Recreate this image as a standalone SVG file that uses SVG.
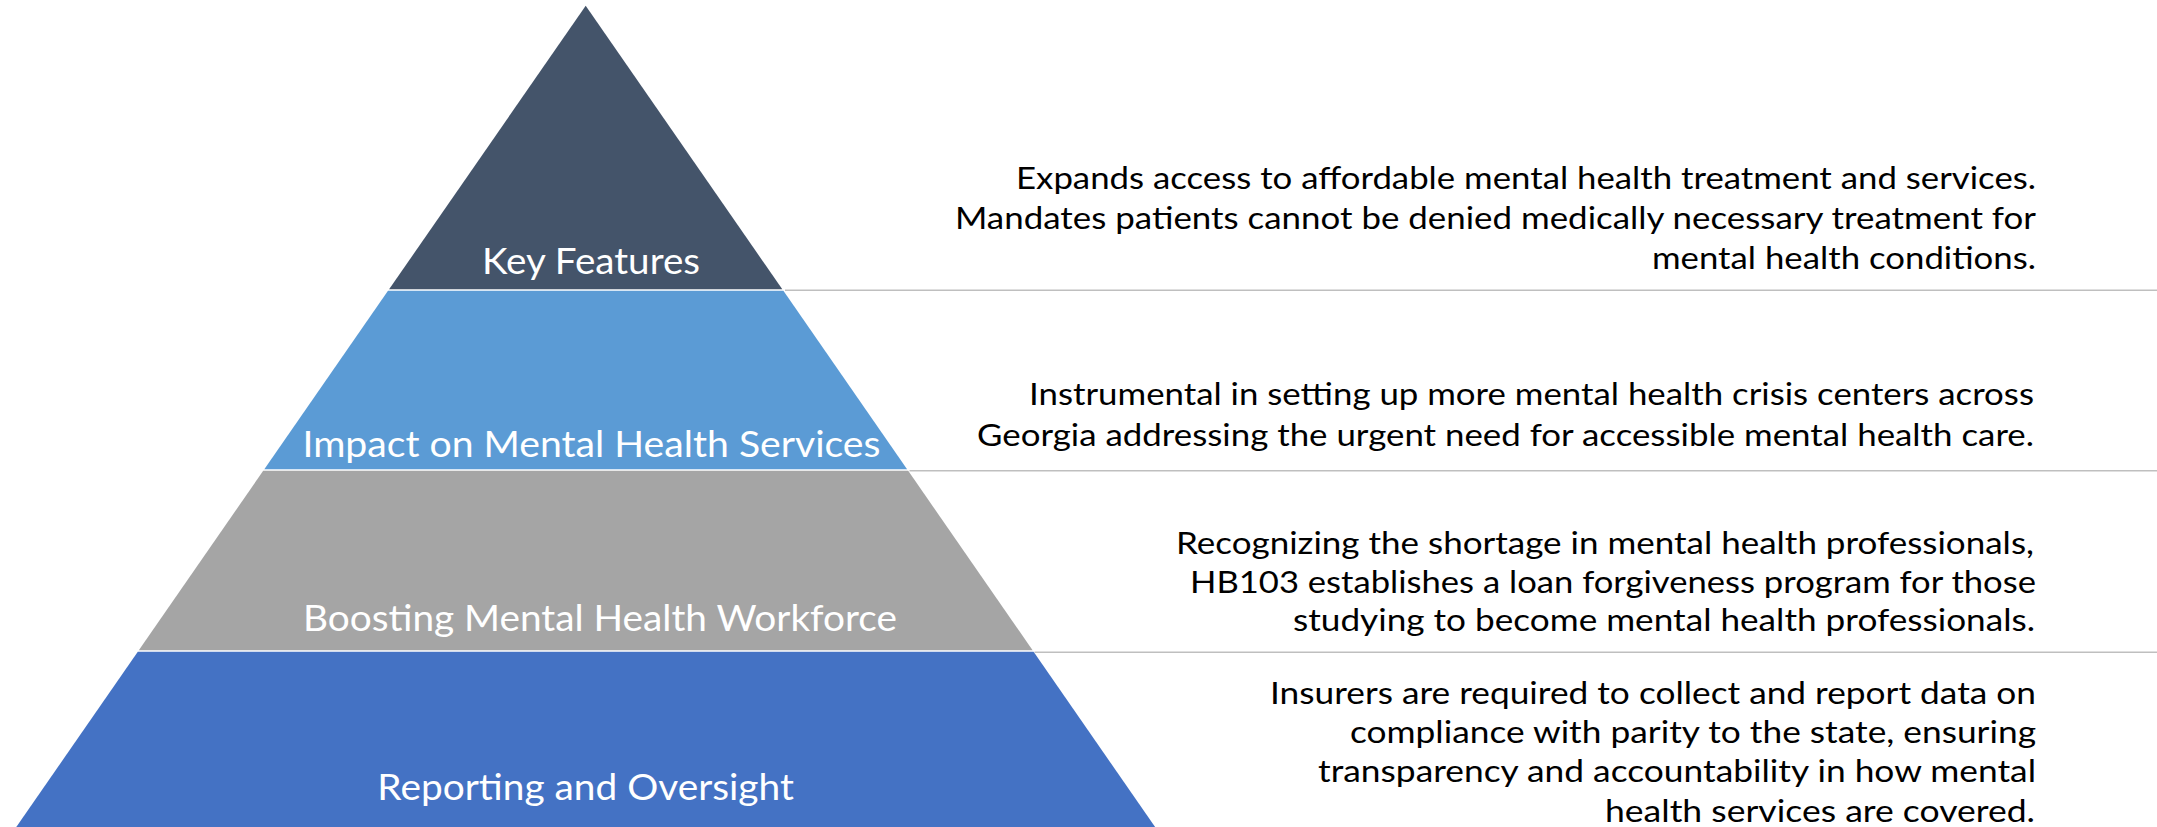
<svg xmlns="http://www.w3.org/2000/svg" width="2157" height="827" viewBox="0 0 2157 827">
<style>
.band{stroke:none}
.lbl{font-family:Lato,"Liberation Sans",sans-serif;font-size:36px;fill:#FFFFFF;text-anchor:middle}
.desc{font-family:Lato,"Liberation Sans",sans-serif;font-size:31px;fill:#000000;text-anchor:end}
.sep{stroke:#BFBFBF;stroke-width:1.6;fill:none}
</style>
<rect width="2157" height="827" fill="#FFFFFF"/>
<g id="separators">
<line class="sep" x1="785" y1="290.2" x2="2157" y2="290.2"/>
<line class="sep" x1="909.5" y1="470.8" x2="2157" y2="470.8"/>
<line class="sep" x1="1034.5" y1="652.3" x2="2157" y2="652.3"/>
</g>
<g id="node-key-features">
<polygon class="band" fill="#44546A" points="585.7,5.7 782.3,289.3 389.1,289.3"/>
<text class="lbl" x="591" y="274" textLength="218" lengthAdjust="spacingAndGlyphs">Key Features</text>
<text class="desc" x="2036" y="189.3" textLength="1020" lengthAdjust="spacingAndGlyphs">Expands access to affordable mental health treatment and services.</text>
<text class="desc" x="2036" y="229" textLength="1081" lengthAdjust="spacingAndGlyphs">Mandates patients cannot be denied medically necessary treatment for</text>
<text class="desc" x="2036" y="269" textLength="384" lengthAdjust="spacingAndGlyphs">mental health conditions.</text>
</g>
<g id="node-impact">
<polygon class="band" fill="#5B9BD5" points="388,290.8 783.4,290.8 907.1,469.3 264.3,469.3"/>
<text class="lbl" x="591.5" y="457" textLength="578" lengthAdjust="spacingAndGlyphs">Impact on Mental Health Services</text>
<text class="desc" x="2034" y="405" textLength="1005" lengthAdjust="spacingAndGlyphs">Instrumental in setting up more mental health crisis centers across</text>
<text class="desc" x="2034" y="445.6" textLength="1057" lengthAdjust="spacingAndGlyphs">Georgia addressing the urgent need for accessible mental health care.</text>
</g>
<g id="node-workforce">
<polygon class="band" fill="#A5A5A5" points="263.2,470.8 908.2,470.8 1032.6,650.3 138.8,650.3"/>
<text class="lbl" x="600" y="630.5" textLength="594" lengthAdjust="spacingAndGlyphs">Boosting Mental Health Workforce</text>
<text class="desc" x="2034" y="553.5" textLength="858" lengthAdjust="spacingAndGlyphs">Recognizing the shortage in mental health professionals,</text>
<text class="desc" x="2036" y="592.5" textLength="846" lengthAdjust="spacingAndGlyphs">HB103 establishes a loan forgiveness program for those</text>
<text class="desc" x="2035" y="631" textLength="742" lengthAdjust="spacingAndGlyphs">studying to become mental health professionals.</text>
</g>
<g id="node-reporting">
<polygon class="band" fill="#4472C4" points="137.8,651.8 1033.6,651.8 1157.2,830 14.2,830"/>
<text class="lbl" x="585.6" y="799.5" textLength="416.5" lengthAdjust="spacingAndGlyphs">Reporting and Oversight</text>
<text class="desc" x="2036" y="704" textLength="766" lengthAdjust="spacingAndGlyphs">Insurers are required to collect and report data on</text>
<text class="desc" x="2036" y="742.8" textLength="686" lengthAdjust="spacingAndGlyphs">compliance with parity to the state, ensuring</text>
<text class="desc" x="2036" y="782.3" textLength="718" lengthAdjust="spacingAndGlyphs">transparency and accountability in how mental</text>
<text class="desc" x="2035" y="821.7" textLength="430" lengthAdjust="spacingAndGlyphs">health services are covered.</text>
</g>
</svg>
